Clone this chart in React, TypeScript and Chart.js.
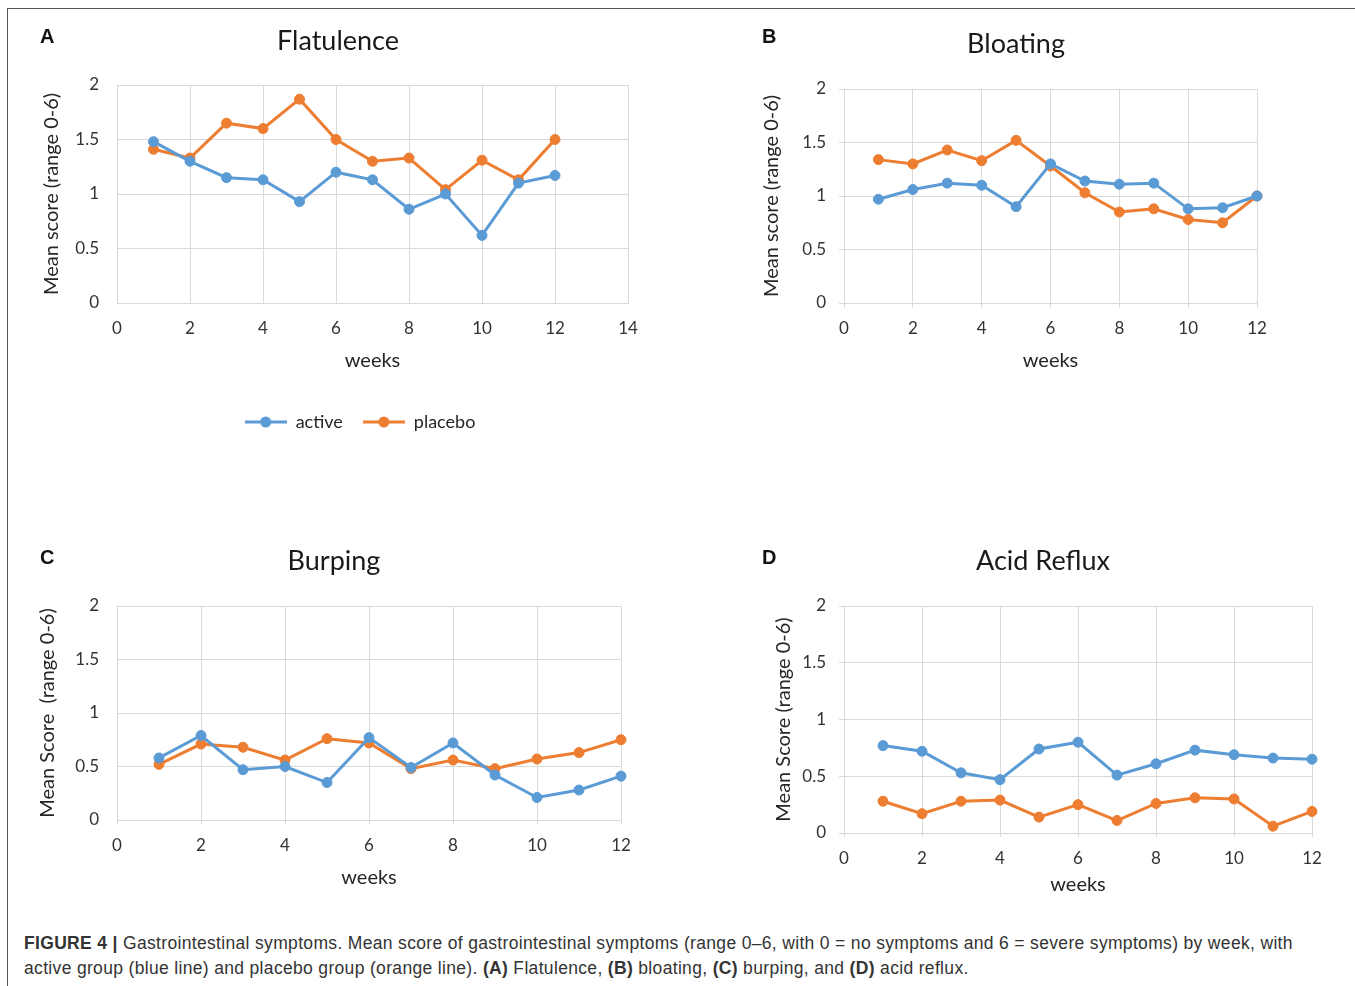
import React, { useEffect, useRef } from "react";
import { Chart, registerables } from "chart.js";

Chart.register(...registerables);

// ---------- data ----------
const weeks = [1, 2, 3, 4, 5, 6, 7, 8, 9, 10, 11, 12];
const seriesNames = ["active", "placebo"];

const flatulenceActive = [1.48, 1.30, 1.15, 1.13, 0.93, 1.20, 1.13, 0.86, 1.00, 0.62, 1.10, 1.17];
const flatulencePlacebo = [1.41, 1.33, 1.65, 1.60, 1.87, 1.50, 1.30, 1.33, 1.04, 1.31, 1.13, 1.50];

const bloatingActive = [0.97, 1.06, 1.12, 1.10, 0.90, 1.30, 1.14, 1.11, 1.12, 0.88, 0.89, 1.00];
const bloatingPlacebo = [1.34, 1.30, 1.43, 1.33, 1.52, 1.28, 1.03, 0.85, 0.88, 0.78, 0.75, 1.00];

const burpingActive = [0.58, 0.79, 0.47, 0.50, 0.35, 0.77, 0.49, 0.72, 0.42, 0.21, 0.28, 0.41];
const burpingPlacebo = [0.52, 0.71, 0.68, 0.56, 0.76, 0.72, 0.48, 0.56, 0.48, 0.57, 0.63, 0.75];

const refluxActive = [0.77, 0.72, 0.53, 0.47, 0.74, 0.80, 0.51, 0.61, 0.73, 0.69, 0.66, 0.65];
const refluxPlacebo = [0.28, 0.17, 0.28, 0.29, 0.14, 0.25, 0.11, 0.26, 0.31, 0.30, 0.06, 0.19];

const panelTitles = ["Flatulence", "Bloating", "Burping", "Acid Reflux"];
const panelLetters = ["A", "B", "C", "D"];
const yAxisTitles = [
  "Mean score (range 0-6)",
  "Mean score (range 0-6)",
  "Mean Score  (range 0-6)",
  "Mean Score (range 0-6)",
];
const xAxisTitle = "weeks";
const xMaxValues = [14, 12, 12, 12];
const yMin = 0;
const yMax = 2;
const yStep = 0.5;
const xStep = 2;

// ---------- styles / layout ----------
const BLUE = "#5B9BD5";
const ORANGE = "#ED7D31";
const GRID = "#d9d9d9";
const FONT = "Lato, 'Open Sans', sans-serif";
const TITLE_SIZE = 27;
const TICK_SIZE = 17;
const AXIS_TITLE_SIZE = 20;
const LEGEND_SIZE = 18;
const LH = 1.2;

type Layout = {
  box: { x: number; y: number; w: number; h: number };
  area: { l: number; r: number; t: number; b: number };
  titleCx: number;
  titleMid: number;
  yTitleCx: number;
  yLabelRight: number;
  xLabelMid: number;
  xTitleMid: number;
  tickX: number;
  tickY: number;
  legend?: { cx: number; mid: number };
  letter: { x: number; y: number };
};

const layouts: Layout[] = [
  {
    box: { x: 0, y: 0, w: 660, h: 451 },
    area: { l: 117, r: 628, t: 85, b: 303 },
    titleCx: 338, titleMid: 41, yTitleCx: 52, yLabelRight: 99,
    xLabelMid: 329, xTitleMid: 361, tickX: 0, tickY: 0,
    legend: { cx: 360, mid: 422 },
    letter: { x: 40, y: 26 },
  },
  {
    box: { x: 730, y: 0, w: 610, h: 460 },
    area: { l: 844, r: 1257, t: 89, b: 303 },
    titleCx: 1016, titleMid: 44.5, yTitleCx: 772, yLabelRight: 826,
    xLabelMid: 329, xTitleMid: 361, tickX: 5, tickY: 5,
    letter: { x: 762, y: 26 },
  },
  {
    box: { x: 0, y: 470, w: 660, h: 440 },
    area: { l: 117, r: 621, t: 606, b: 820 },
    titleCx: 334, titleMid: 561, yTitleCx: 47.5, yLabelRight: 99,
    xLabelMid: 845.5, xTitleMid: 877.5, tickX: 4, tickY: 0,
    letter: { x: 40, y: 547 },
  },
  {
    box: { x: 730, y: 470, w: 610, h: 440 },
    area: { l: 844, r: 1312, t: 606, b: 833 },
    titleCx: 1043, titleMid: 561, yTitleCx: 783.5, yLabelRight: 826,
    xLabelMid: 858.5, xTitleMid: 884.5, tickX: 4, tickY: 5,
    letter: { x: 762, y: 547 },
  },
];

const panelSeries = [
  [flatulenceActive, flatulencePlacebo],
  [bloatingActive, bloatingPlacebo],
  [burpingActive, burpingPlacebo],
  [refluxActive, refluxPlacebo],
];

function legendImage(color: string): HTMLCanvasElement {
  const c = document.createElement("canvas");
  c.width = 42;
  c.height = 12;
  const ctx = c.getContext("2d")!;
  ctx.strokeStyle = color;
  ctx.lineWidth = 3;
  ctx.beginPath();
  ctx.moveTo(0, 6);
  ctx.lineTo(42, 6);
  ctx.stroke();
  ctx.fillStyle = color;
  ctx.beginPath();
  ctx.arc(21, 6, 5.5, 0, Math.PI * 2);
  ctx.fill();
  return c;
}

const shiftPlugin = {
  id: "shiftBoxes",
  afterLayout(chart: any, _args: any, opts: any) {
    const off = opts.offsetX || 0;
    const t = chart.titleBlock;
    if (t && opts.titleCx != null) {
      const d = opts.titleCx - off - (t.left + t.right) / 2;
      t.left += d;
      t.right += d;
    }
    const l = chart.legend;
    if (l && opts.legendCx != null) {
      const d = opts.legendCx - off - (l.left + l.right) / 2;
      l.left += d;
      l.right += d;
    }
  },
};

function Panel({ index }: { index: number }) {
  const ref = useRef<HTMLCanvasElement | null>(null);
  const L = layouts[index];

  useEffect(() => {
    if (!ref.current) return;
    const { box, area } = L;
    const titleLH = TITLE_SIZE * LH;
    const tickLH = TICK_SIZE * LH;
    const axLH = AXIS_TITLE_SIZE * LH;

    const pl = 4;
    const yW = area.l - box.x - pl;
    const yTitlePad = L.yTitleCx - box.x - pl - axLH / 2;
    const yTickPad = area.l - L.tickY - L.yLabelRight;
    const pr = box.w - (area.r - box.x);
    const pt = 4;
    const titlePadTop = L.titleMid - box.y - pt - titleLH / 2;
    const titlePadBottom = area.t - L.titleMid - titleLH / 2;
    const xTickPad = L.xLabelMid - area.b - L.tickX - tickLH / 2;

    let xH: number;
    let pb: number;
    const legendPad = 20;
    if (L.legend) {
      const legendTop = L.legend.mid - legendPad - LEGEND_SIZE / 2;
      xH = legendTop - area.b;
      const legendH = LEGEND_SIZE + legendPad + 10;
      pb = box.y + box.h - legendTop - legendH;
    } else {
      pb = 4;
      xH = box.y + box.h - pb - area.b;
    }
    const xTitlePadBottom = area.b + xH - L.xTitleMid - axLH / 2;

    const colors = [BLUE, ORANGE];
    const images = colors.map(legendImage);
    const series = panelSeries[index];

    const chart = new Chart(ref.current, {
      type: "line",
      data: {
        datasets: series.map((vals, si) => ({
          label: seriesNames[si],
          data: weeks.map((w, i) => ({ x: w, y: vals[i] })),
          borderColor: colors[si],
          backgroundColor: colors[si],
          pointBackgroundColor: colors[si],
          pointBorderColor: colors[si],
          borderWidth: 3,
          pointRadius: 5,
          pointBorderWidth: 1,
          tension: 0,
          clip: false as any,
        })),
      },
      options: {
        responsive: false,
        animation: false,
        maintainAspectRatio: false,
        layout: { padding: { left: pl, right: pr, top: pt, bottom: pb } },
        scales: {
          x: {
            type: "linear",
            min: 0,
            max: xMaxValues[index],
            ticks: {
              stepSize: xStep,
              padding: xTickPad,
              maxRotation: 0,
              color: "#333",
              font: { family: FONT, size: TICK_SIZE },
              callback: (v: any) => String(v),
            },
            grid: {
              color: GRID,
              drawTicks: L.tickX > 0,
              tickLength: L.tickX,
            },
            border: { display: true, color: GRID },
            title: {
              display: true,
              text: xAxisTitle,
              color: "#262626",
              font: { family: FONT, size: AXIS_TITLE_SIZE },
              padding: { top: 0, bottom: xTitlePadBottom },
            },
            afterFit: (s: any) => {
              s.height = xH;
            },
          },
          y: {
            type: "linear",
            min: yMin,
            max: yMax,
            ticks: {
              stepSize: yStep,
              padding: yTickPad,
              color: "#333",
              font: { family: FONT, size: TICK_SIZE },
              callback: (v: any) => String(v),
            },
            grid: {
              color: GRID,
              drawTicks: L.tickY > 0,
              tickLength: L.tickY,
            },
            border: { display: true, color: GRID },
            title: {
              display: true,
              text: yAxisTitles[index],
              color: "#262626",
              font: { family: FONT, size: AXIS_TITLE_SIZE },
              padding: { top: yTitlePad, bottom: 0 },
            },
            afterFit: (s: any) => {
              s.width = yW;
            },
          },
        },
        plugins: {
          title: {
            display: true,
            text: panelTitles[index],
            color: "#1a1a1a",
            font: { family: FONT, size: TITLE_SIZE, weight: "normal" as any },
            padding: { top: titlePadTop, bottom: titlePadBottom },
          },
          legend: {
            display: !!L.legend,
            position: "bottom",
            labels: {
              usePointStyle: true,
              pointStyleWidth: 42,
              padding: legendPad,
              color: "#262626",
              font: { family: FONT, size: LEGEND_SIZE },
              generateLabels: (c: any) =>
                (Chart.defaults.plugins.legend.labels as any)
                  .generateLabels(c)
                  .map((it: any, i: number) => ({ ...it, pointStyle: images[i] })),
            },
          },
          tooltip: { enabled: false },
          shiftBoxes: {
            offsetX: box.x,
            titleCx: L.titleCx,
            legendCx: L.legend ? L.legend.cx : null,
          },
        } as any,
      },
      plugins: [shiftPlugin as any],
    });
    return () => chart.destroy();
  }, [index]);

  const { box } = L;
  return (
    <>
      <canvas
        ref={ref}
        width={box.w}
        height={box.h}
        style={{ position: "absolute", left: box.x, top: box.y, width: box.w, height: box.h }}
      />
      <div
        style={{
          position: "absolute",
          left: L.letter.x,
          top: L.letter.y,
          font: "bold 20px 'Liberation Sans', Arial, sans-serif",
          lineHeight: "20px",
          color: "#111",
        }}
      >
        {panelLetters[index]}
      </div>
    </>
  );
}

export default function App() {
  return (
    <div
      style={{
        position: "fixed",
        left: 0,
        top: 0,
        width: 1355,
        height: 986,
        background: "#fff",
        overflow: "hidden",
      }}
    >
      <div
        style={{
          position: "absolute",
          left: 7,
          top: 8,
          width: 1348,
          height: 978,
          borderTop: "1px solid #555",
          borderLeft: "1px solid #555",
        }}
      />
      {[0, 1, 2, 3].map((i) => (
        <Panel key={i} index={i} />
      ))}
      <div
        style={{
          position: "absolute",
          left: 24,
          top: 931,
          fontFamily: "'Liberation Sans', Arial, sans-serif",
          fontSize: 17.5,
          letterSpacing: "0.33px",
          lineHeight: "25px",
          color: "#333",
          whiteSpace: "nowrap",
        }}
      >
        <b>FIGURE 4 |</b> Gastrointestinal symptoms. Mean score of gastrointestinal symptoms (range 0–6,
        with 0 = no symptoms and 6 = severe symptoms) by week, with
        <br />
        active group (blue line) and placebo group (orange line). <b>(A)</b> Flatulence, <b>(B)</b>{" "}
        bloating, <b>(C)</b> burping, and <b>(D)</b> acid reflux.
      </div>
    </div>
  );
}
